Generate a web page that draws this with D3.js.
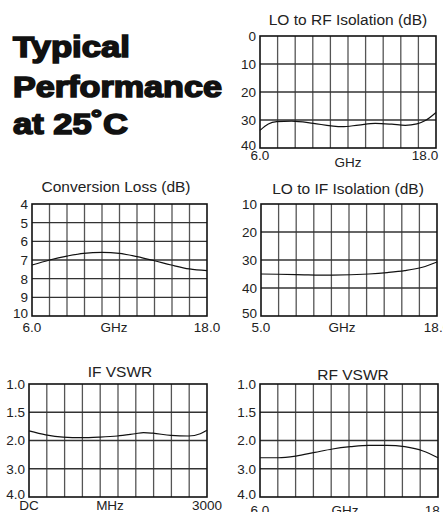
<!DOCTYPE html>
<html>
<head>
<meta charset="utf-8">
<script src="https://cdn.jsdelivr.net/npm/d3@7"></script>
<style>
  body { margin: 0; background: #fff; }
  svg { display: block; font-family: "Liberation Sans", Arial, sans-serif; }
</style>
</head>
<body>
<div id="chart"></div>
<script>
// ---- data ----
var loRfFreq = [6.0, 6.57, 7.14, 8.16, 9.64, 10.85, 11.58, 12.72, 13.86, 14.99, 15.9, 16.7, 17.27, 18.0];
var loRfIso  = [33.7, 31.4, 30.6, 30.4, 31.2, 32.1, 32.4, 31.8, 31.2, 31.5, 31.9, 31.4, 30.2, 27.3];
var loRfTicks = [0, 10, 20, 30, 40];

var convFreq = [6.0, 7.21, 8.4, 9.54, 10.8, 11.99, 13.2, 14.39, 15.55, 16.79, 18.0];
var convLoss = [7.27, 7.0, 6.79, 6.64, 6.59, 6.64, 6.82, 7.04, 7.27, 7.48, 7.57];
var convTicks = [4, 5, 6, 7, 8, 9, 10];

var loIfFreq = [5.0, 7.6, 10.27, 12.97, 14.32, 15.62, 16.92, 18.0];
var loIfIso  = [35.0, 35.2, 35.4, 35.0, 34.5, 33.8, 32.6, 30.7];
var loIfTicks = [10, 20, 30, 40, 50];

var ifFreq  = [0, 282, 575, 885, 1184, 1489, 1788, 1929, 2086, 2391, 2690, 2887, 3000];
var ifVswr  = [1.83, 1.9, 1.94, 1.95, 1.94, 1.92, 1.88, 1.86, 1.87, 1.91, 1.92, 1.88, 1.82];
var rfFreq  = [6.0, 7.23, 8.42, 9.7, 10.89, 12.1, 13.33, 14.57, 15.76, 16.99, 18.0];
var rfVswr  = [2.61, 2.61, 2.55, 2.42, 2.3, 2.22, 2.17, 2.17, 2.22, 2.37, 2.61];
var vswrTicks = [1.0, 1.5, 2.0, 3.0, 4.0];

var titleLines = ["Typical", "Performance", "at 25\u02DAC"];

// ---- page ----
var W = 443, H = 512;
var svg = d3.select("#chart").append("svg").attr("width", W).attr("height", H);

var title = svg.append("g");
var titleY = [57, 97, 134];
var titleLen = [117, 209, 115];
titleLines.forEach(function(t, i){
  title.append("text")
    .attr("x", 13).attr("y", titleY[i])
    .attr("font-size", 30).attr("font-weight", "bold")
    .attr("fill", "#111").attr("stroke", "#111").attr("stroke-width", 1.6)
    .attr("textLength", titleLen[i]).attr("lengthAdjust", "spacingAndGlyphs")
    .text(t);
});

function panel(cfg){
  var g = svg.append("g");
  var x = d3.scaleLinear().domain(cfg.xDomain).range([cfg.x0, cfg.x1]);
  var yTicks = cfg.yTicks;
  var y = d3.scaleLinear().domain(yTicks)
            .range(yTicks.map(function(d, i){ return cfg.y0 + i * (cfg.y1 - cfg.y0) / (yTicks.length - 1); }));

  // vertical grid: 10 columns
  var cols = d3.range(1, 10).map(function(i){ return cfg.xDomain[0] + i * (cfg.xDomain[1] - cfg.xDomain[0]) / 10; });
  g.selectAll(".vg").data(cols).enter().append("line")
    .attr("x1", function(d){ return x(d); }).attr("x2", function(d){ return x(d); })
    .attr("y1", cfg.y0).attr("y2", cfg.y1)
    .attr("stroke", "#555").attr("stroke-width", 1.3);

  g.selectAll(".hg").data(yTicks.slice(1, -1)).enter().append("line")
    .attr("x1", cfg.x0).attr("x2", cfg.x1)
    .attr("y1", function(d){ return y(d); }).attr("y2", function(d){ return y(d); })
    .attr("stroke", "#333").attr("stroke-width", 1.3);

  g.append("rect")
    .attr("x", cfg.x0).attr("y", cfg.y0)
    .attr("width", cfg.x1 - cfg.x0).attr("height", cfg.y1 - cfg.y0)
    .attr("fill", "none").attr("stroke", "#111").attr("stroke-width", 1.6);

  var line = d3.line()
    .x(function(d){ return x(d[0]); })
    .y(function(d){ return y(d[1]); })
    .curve(d3.curveMonotoneX);
  g.append("path")
    .datum(d3.zip(cfg.xs, cfg.ys))
    .attr("d", line)
    .attr("fill", "none").attr("stroke", "#111").attr("stroke-width", 1.2);

  g.append("text")
    .attr("x", cfg.titleX).attr("y", cfg.titleY)
    .attr("text-anchor", "middle").attr("font-size", 15.5).attr("fill", "#222")
    .text(cfg.title);

  var last = yTicks[yTicks.length - 1];
  g.selectAll(".yl").data(yTicks).enter().append("text")
    .attr("x", cfg.x0 - 4)
    .attr("y", function(d){ return y(d) - (d === last ? 3 : 0); })
    .attr("dy", "0.36em").attr("text-anchor", "end")
    .attr("font-size", 13.5).attr("fill", "#222")
    .text(function(d){ return cfg.yFmt(d); });

  var xl = cfg.xLabels;
  var base = cfg.y1 + (cfg.labelDy || 16);
  g.append("text")
    .attr("x", x(cfg.xDomain[0])).attr("y", base)
    .attr("text-anchor", "middle").attr("font-size", 13.5).attr("fill", "#222")
    .text(xl[0]);
  g.append("text")
    .attr("x", cfg.unitX).attr("y", cfg.y1 + (cfg.unitDy || (cfg.labelDy || 16)))
    .attr("text-anchor", "middle").attr("font-size", 13.5).attr("fill", "#222")
    .text(xl[1]);
  g.append("text")
    .attr("x", x(cfg.xDomain[1]) + (cfg.lastDx || 0)).attr("y", base)
    .attr("text-anchor", "middle").attr("font-size", 13.5).attr("fill", "#222")
    .text(xl[2]);
}

var fmt0 = d3.format("d"), fmt1 = d3.format(".1f");

panel({ title: "LO to RF Isolation (dB)", titleX: 348, titleY: 25,
  x0: 260, x1: 436, y0: 36, y1: 148, xDomain: [6, 18],
  xs: loRfFreq, ys: loRfIso, yTicks: loRfTicks, yFmt: fmt0,
  xLabels: ["6.0", "GHz", "18.0"], unitX: 348, labelDy: 12, unitDy: 19, lastDx: -11 });

panel({ title: "Conversion Loss (dB)", titleX: 116, titleY: 192,
  x0: 32, x1: 207, y0: 204, y1: 316, xDomain: [6, 18],
  xs: convFreq, ys: convLoss, yTicks: convTicks, yFmt: fmt0,
  xLabels: ["6.0", "GHz", "18.0"], unitX: 114 });

panel({ title: "LO to IF Isolation (dB)", titleX: 348, titleY: 194,
  x0: 261, x1: 437, y0: 204, y1: 316, xDomain: [5, 18],
  xs: loIfFreq, ys: loIfIso, yTicks: loIfTicks, yFmt: fmt0,
  xLabels: ["5.0", "GHz", "18.0"], unitX: 342 });

panel({ title: "IF VSWR", titleX: 120, titleY: 377,
  x0: 29, x1: 207, y0: 384, y1: 497, xDomain: [0, 3000],
  xs: ifFreq, ys: ifVswr, yTicks: vswrTicks, yFmt: fmt1,
  xLabels: ["DC", "MHz", "3000"], unitX: 110, labelDy: 13 });

panel({ title: "RF VSWR", titleX: 353, titleY: 380,
  x0: 260, x1: 438, y0: 384, y1: 497, xDomain: [6, 18],
  xs: rfFreq, ys: rfVswr, yTicks: vswrTicks, yFmt: fmt1,
  xLabels: ["6.0", "GHz", "18.0"], unitX: 345, labelDy: 18 });
</script>
</body>
</html>
